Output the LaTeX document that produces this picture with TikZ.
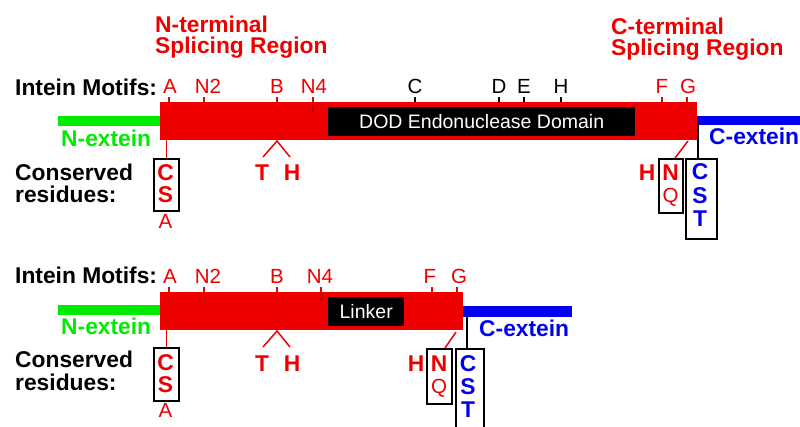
\documentclass[tikz,border=0pt]{standalone}
\usepackage{fontspec}
\setmainfont{Liberation Sans}
\definecolor{ired}{RGB}{238,0,0}
\definecolor{idred}{RGB}{200,0,0}
\definecolor{igreen}{RGB}{0,235,0}
\definecolor{iblue}{RGB}{0,0,238}
\begin{document}
\begin{tikzpicture}[x=1pt,y=-1pt,
  bt/.style={font=\fontsize{22.8}{22.8}\selectfont\bfseries, inner sep=0pt},
  rt/.style={font=\fontsize{20.5}{20.5}\selectfont, inner sep=0pt},
  redbar/.style={fill=ired, draw=none, inner sep=0pt, anchor=north west},
  blackbox/.style={fill=black, draw=none, inner sep=0pt, anchor=north west, font=\fontsize{19.5}{19.5}\selectfont, text=white},
  grnbar/.style={fill=igreen, draw=none, inner sep=0pt, anchor=north west},
  blubar/.style={fill=iblue, draw=none, inner sep=0pt, anchor=north west},
  resbox/.style={draw=black, line width=1.5pt, inner sep=0pt, anchor=north west},
  rtick/.style={draw=ired, line width=1.3pt},
  ktick/.style={draw=black, line width=1.3pt},
  rline/.style={draw=ired, line width=1.5pt},
  kline/.style={draw=black, line width=1.5pt}
]
\fill[white] (0,0) rectangle (800,426);
\useasboundingbox (0,0) rectangle (800,426);
\clip (0,0) rectangle (800,426);

%%%%%%%%%%%%%%%% TOP DIAGRAM %%%%%%%%%%%%%%%%
\node[bt, text=ired, anchor=base west] (nt1) at (155,32) {N-terminal};
\node[bt, text=ired, anchor=base west] (nt2) at (155,53) {Splicing Region};
\node[bt, text=ired, anchor=base west] (ct1) at (611,34) {C-terminal};
\node[bt, text=ired, anchor=base west] (ct2) at (611,55) {Splicing Region};

\node[bt, anchor=base west] (im1) at (15,95) {Intein Motifs:};
\node[bt, anchor=base west] (cr1a) at (15,180) {Conserved};
\node[bt, anchor=base west] (cr1b) at (15,202) {residues:};

\node[grnbar, minimum width=102pt, minimum height=10pt] (gn1) at (58,116) {};
\node[blubar, minimum width=104pt, minimum height=9pt] (bl1) at (696,116) {};
\node[redbar, minimum width=537pt, minimum height=38pt] (bar1) at (160,102) {};
\node[blackbox, minimum width=307pt, minimum height=29pt] (dod) at (328,107) {DOD Endonuclease Domain};

\node[bt, text=igreen, anchor=base west] (ne1) at (61,146) {N-extein};
\node[bt, text=iblue, anchor=base west] (ce1) at (709,144) {C-extein};

% motif labels
\node[rt, text=ired, anchor=base] (mA1) at (170,93) {A};
\node[rt, text=ired, anchor=base] (mN21) at (208,93) {N2};
\node[rt, text=ired, anchor=base] (mB1) at (277,93) {B};
\node[rt, text=ired, anchor=base] (mN41) at (314,93) {N4};
\node[rt, anchor=base] (mC1) at (415,93) {C};
\node[rt, anchor=base] (mD1) at (499,93) {D};
\node[rt, anchor=base] (mE1) at (524,93) {E};
\node[rt, anchor=base] (mH1) at (561,93) {H};
\node[rt, text=ired, anchor=base] (mF1) at (662,93) {F};
\node[rt, text=ired, anchor=base] (mG1) at (688,93) {G};
\foreach \tx in {169,204,277,662,687} \draw[rtick] (\tx,97) -- (\tx,102);
\foreach \tx in {415,499,524,561} \draw[ktick] (\tx,97) -- (\tx,102);
\draw[rtick] (313,97) -- (313,102);
\draw[draw=idred, line width=1.3pt] (313,102) -- (313,112);

% conserved residues left
\node[resbox, minimum width=25pt, minimum height=52pt] (cs1) at (153,158) {};
\node[bt, text=ired, anchor=base] (cs1c) at (165.5,180) {C};
\node[bt, text=ired, anchor=base] (cs1s) at (165.5,202) {S};
\node[rt, text=ired, anchor=base] (cs1a) at (165.5,228) {A};
\draw[rline] (bar1.south -| cs1.north) -- (cs1.north);

% T H
\coordinate (ap1) at (277,141);
\coordinate (tl1) at (263,157);
\coordinate (hl1) at (290,157);
\node[bt, text=ired, anchor=base] (tt1) at (262,180) {T};
\node[bt, text=ired, anchor=base] (th1) at (292,180) {H};
\draw[rline] (tl1) -- (ap1) -- (hl1);

% conserved residues right
\node[bt, text=ired, anchor=base] (hh1) at (647,180) {H};
\node[resbox, minimum width=24pt, minimum height=54pt] (nq1) at (658,158) {};
\node[bt, text=ired, anchor=base] (nq1n) at (670.5,180) {N};
\node[rt, text=ired, anchor=base] (nq1q) at (670.5,202) {Q};
\coordinate (nqt1) at (688,141);
\coordinate (nqb1) at (675,158);
\draw[rline] (nqt1) -- (nqb1);

\node[resbox, minimum width=31pt, minimum height=80pt] (cst1) at (685,158) {};
\node[bt, text=iblue, anchor=base] (cst1c) at (700,179) {C};
\node[bt, text=iblue, anchor=base] (cst1s) at (700,203) {S};
\node[bt, text=iblue, anchor=base] (cst1t) at (700,226) {T};
\coordinate (cstt1) at (698,123);
\draw[kline] (cstt1) -- (cstt1 |- cst1.north);

%%%%%%%%%%%%%%%% BOTTOM DIAGRAM %%%%%%%%%%%%%%%%
\node[bt, anchor=base west] (im2) at (15,283) {Intein Motifs:};
\node[bt, anchor=base west] (cr2a) at (15,367) {Conserved};
\node[bt, anchor=base west] (cr2b) at (15,390) {residues:};

\node[grnbar, minimum width=102pt, minimum height=10pt] (gn2) at (58,305) {};
\node[blubar, minimum width=109pt, minimum height=11pt] (bl2) at (463,306) {};
\node[redbar, minimum width=303pt, minimum height=38pt] (bar2) at (160,292) {};
\node[blackbox, minimum width=76pt, minimum height=29pt] (lnk) at (328,297) {Linker};

\node[bt, text=igreen, anchor=base west] (ne2) at (61,334) {N-extein};
\node[bt, text=iblue, anchor=base west] (ce2) at (479,336) {C-extein};

\node[rt, text=ired, anchor=base] (mA2) at (170,283) {A};
\node[rt, text=ired, anchor=base] (mN22) at (208,283) {N2};
\node[rt, text=ired, anchor=base] (mB2) at (277,283) {B};
\node[rt, text=ired, anchor=base] (mN42) at (320,283) {N4};
\node[rt, text=ired, anchor=base] (mF2) at (430,283) {F};
\node[rt, text=ired, anchor=base] (mG2) at (459,283) {G};
\foreach \tx in {169,204,277,432,457} \draw[rtick] (\tx,287) -- (\tx,292);
\draw[rtick] (321,287) -- (321,292);
\draw[draw=idred, line width=1.3pt] (321,292) -- (321,302);

\node[resbox, minimum width=25pt, minimum height=53pt] (cs2) at (153,347) {};
\node[bt, text=ired, anchor=base] (cs2c) at (165.5,370) {C};
\node[bt, text=ired, anchor=base] (cs2s) at (165.5,392) {S};
\node[rt, text=ired, anchor=base] (cs2a) at (165.5,417) {A};
\draw[rline] (bar2.south -| cs2.north) -- (cs2.north);

\coordinate (ap2) at (277,331);
\coordinate (tl2) at (263,347);
\coordinate (hl2) at (290,347);
\node[bt, text=ired, anchor=base] (tt2) at (262,371) {T};
\node[bt, text=ired, anchor=base] (th2) at (292,371) {H};
\draw[rline] (tl2) -- (ap2) -- (hl2);

\node[bt, text=ired, anchor=base] (hh2) at (416,371) {H};
\node[resbox, minimum width=25pt, minimum height=55pt] (nq2) at (426,348) {};
\node[bt, text=ired, anchor=base] (nq2n) at (439,371) {N};
\node[rt, text=ired, anchor=base] (nq2q) at (439,393) {Q};
\coordinate (nqt2) at (456,332);
\coordinate (nqb2) at (445,348);
\draw[rline] (nqt2) -- (nqb2);

\node[resbox, minimum width=28pt, minimum height=90pt] (cst2) at (455,348) {};
\node[bt, text=iblue, anchor=base] (cst2c) at (468,371) {C};
\node[bt, text=iblue, anchor=base] (cst2s) at (468,394) {S};
\node[bt, text=iblue, anchor=base] (cst2t) at (468,417) {T};
\coordinate (cstt2) at (467,316);
\draw[kline] (cstt2) -- (cstt2 |- cst2.north);
\end{tikzpicture}
\end{document}
